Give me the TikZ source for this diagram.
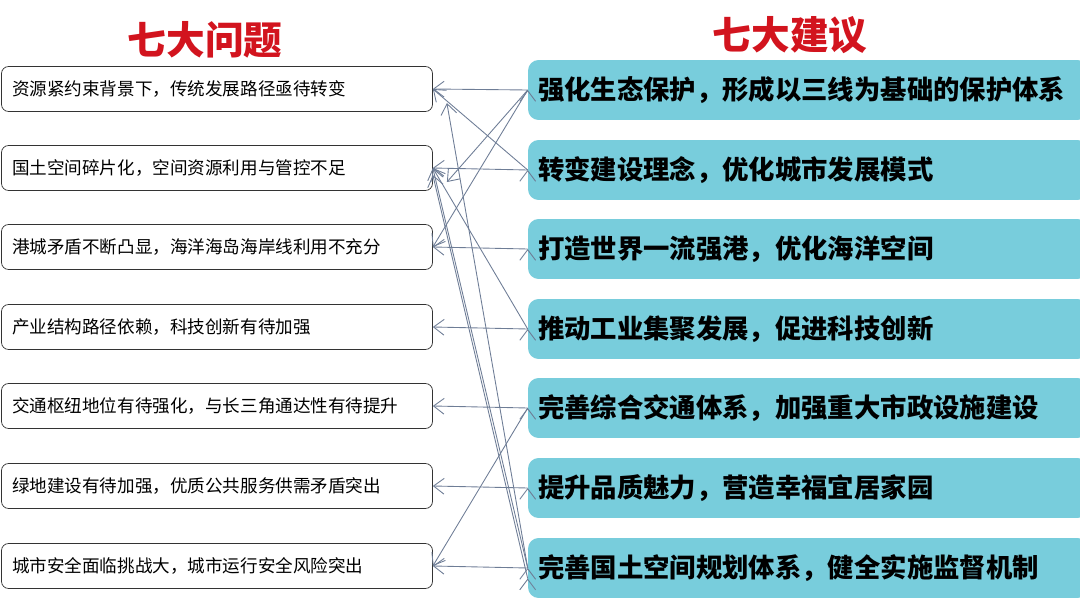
\documentclass[tikz,border=0pt]{standalone}
\usepackage{fontspec}
\setmainfont{Noto Sans CJK SC}
\usetikzlibrary{positioning,arrows.meta}
\definecolor{titlered}{RGB}{210,20,30}
\definecolor{boxblue}{RGB}{120,205,220}
\definecolor{linkgray}{RGB}{110,125,150}
\tikzset{
  problem/.style={draw=black!80, rounded corners=4pt, minimum width=8.6cm, minimum height=0.9cm, inner xsep=6pt, text width=8.2cm, align=left, font=\fontsize{10}{12}\selectfont},
  advice/.style={fill=boxblue, rounded corners=6pt, minimum width=11.2cm, minimum height=1.2cm, text width=10.8cm, align=left, font=\bfseries\fontsize{15}{18}\selectfont},
  link/.style={draw=linkgray, line width=0.5pt, -{Straight Barb[length=6pt,width=9pt]}}
}
\begin{document}
\begin{tikzpicture}[x=0.02cm,y=-0.02cm]
   \useasboundingbox (0,0) rectangle (1080,598);
   \node[font=\bfseries\fontsize{22}{26}\selectfont, text=titlered] (t1) at (205,40) {七大问题};
   \node[font=\bfseries\fontsize{22}{26}\selectfont, text=titlered] (t2) at (790,35) {七大建议};
   % left column
   \node[problem] (p1) at (217,89) {资源紧约束背景下，传统发展路径亟待转变};
   \node[problem] (p2) at (217,168) {国土空间碎片化，空间资源利用与管控不足};
   \node[problem] (p3) at (217,247) {港城矛盾不断凸显，海洋海岛海岸线利用不充分};
   \node[problem] (p4) at (217,327) {产业结构路径依赖，科技创新有待加强};
   \node[problem] (p5) at (217,406) {交通枢纽地位有待强化，与长三角通达性有待提升};
   \node[problem] (p6) at (217,486) {绿地建设有待加强，优质公共服务供需矛盾突出};
   \node[problem] (p7) at (217,566) {城市安全面临挑战大，城市运行安全风险突出};
   % right column
   \node[advice] (a1) at (808,90) {强化生态保护，形成以三线为基础的保护体系};
   \node[advice] (a2) at (808,170) {转变建设理念，优化城市发展模式};
   \node[advice] (a3) at (808,249) {打造世界一流强港，优化海洋空间};
   \node[advice] (a4) at (808,329) {推动工业集聚发展，促进科技创新};
   \node[advice] (a5) at (808,408) {完善综合交通体系，加强重大市政设施建设};
   \node[advice] (a6) at (808,488) {提升品质魅力，营造幸福宜居家园};
   \node[advice] (a7) at (808,568) {完善国土空间规划体系，健全实施监督机制};
   % links
   \path[link] (a1.west) edge (p1.east) edge ([xshift=8pt,yshift=-8pt]p2.east) edge (p3.east);
   \path[link] (a2.west) edge (p2.east) edge (p1.east);
   \path[link] (a3.west) edge (p3.east);
   \path[link] (a4.west) edge (p4.east) edge (p2.east);
   \path[link] (a5.west) edge (p5.east) edge (p7.east);
   \path[link] (a6.west) edge (p6.east);
   \path[link] (a7.west) edge (p7.east) edge ([xshift=8pt,yshift=-8pt]p1.east) edge (p2.east);
   \path[link] ([yshift=-6pt]a7.west) edge ([yshift=-4pt]p2.east);
\end{tikzpicture}
\end{document}
